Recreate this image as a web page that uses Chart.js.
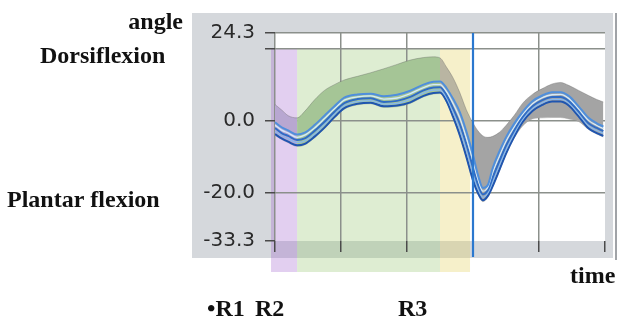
<!DOCTYPE html>
<html>
<head>
<meta charset="utf-8">
<script src="https://cdn.jsdelivr.net/npm/chart.js@4.4.1/dist/chart.umd.min.js"></script>
<style>
  html, body { margin: 0; padding: 0; background: #fff; }
  #wrap { width: 622px; height: 322px; }
</style>
</head>
<body>
<div id="wrap"><canvas id="ankleChart" width="622" height="322"></canvas></div>
<script>
// time axis, % of the gait cycle
const cycle = [0, 2, 4, 6.7, 9, 12, 15, 18, 21, 25, 29, 33, 37, 41, 45, 48, 50, 52, 54, 56, 58, 60, 61.5, 63, 64.5, 66, 68, 70, 72.5, 75, 78, 81, 84, 86.5, 89, 92, 95, 97.5, 99.5];

// normal range band (deg)
const normUpper = [4.5, 3.0, 1.4, 0.8, 2.6, 5.8, 8.4, 10.0, 11.3, 12.3, 13.3, 14.4, 15.6, 16.8, 17.5, 17.7, 17.4, 14.8, 11.8, 7.8, 3.0, -0.6, -2.8, -4.2, -4.6, -4.3, -3.2, -1.3, 1.5, 4.8, 7.3, 8.9, 10.2, 10.6, 9.8, 8.4, 7.0, 5.9, 5.2];
const normLower = [-4.0, -5.2, -6.1, -7.1, -6.7, -4.7, -2.2, 0.7, 3.2, 4.4, 4.7, 3.7, 3.9, 4.8, 6.6, 7.4, 7.5, 5.0, 0.6, -4.4, -10.4, -16.9, -20.4, -22.4, -21.2, -18.4, -14.0, -9.5, -4.8, -1.5, 0.5, 0.8, 0.9, 0.9, 0.5, -0.2, -2.4, -3.7, -4.5];

// recorded trials (deg)
const trial1 = [-0.4, -1.8, -2.7, -3.8, -3.3, -1.2, 1.4, 4.0, 6.4, 7.3, 7.5, 6.8, 7.2, 8.3, 10.0, 10.8, 10.9, 9.0, 6.0, 2.4, -3.0, -9.5, -15.0, -18.6, -17.8, -13.0, -8.5, -4.6, -0.8, 2.4, 5.4, 7.0, 7.9, 7.9, 6.9, 4.0, 0.8, -0.7, -1.6];
const trial2 = [-1.2, -2.6, -3.4, -4.6, -4.0, -2.0, 0.6, 3.3, 5.7, 6.6, 6.9, 6.0, 6.3, 7.5, 9.2, 10.0, 10.0, 8.0, 4.7, 0.8, -4.8, -11.2, -16.2, -19.5, -18.4, -14.2, -9.8, -5.7, -1.7, 1.7, 4.7, 6.4, 7.2, 7.3, 6.2, 3.3, 0.1, -1.3, -2.2];
const trial3 = [-2.0, -3.4, -4.2, -5.3, -4.9, -2.8, -0.3, 2.5, 4.9, 6.0, 6.2, 5.2, 5.5, 6.6, 8.4, 9.2, 9.3, 7.1, 3.4, -0.9, -6.5, -13.0, -17.6, -20.4, -19.2, -15.6, -11.1, -6.9, -2.6, 1.0, 4.0, 5.7, 6.6, 6.6, 5.5, 2.6, -0.7, -2.0, -2.9];
const trial4 = [-2.9, -4.1, -5.0, -6.0, -5.6, -3.7, -1.0, 1.8, 4.2, 5.3, 5.6, 4.6, 4.8, 5.9, 7.7, 8.5, 8.5, 6.3, 2.2, -2.4, -8.2, -14.8, -18.8, -21.2, -20.0, -16.8, -12.3, -8.0, -3.5, 0.3, 3.4, 5.0, 5.9, 5.9, 4.9, 1.9, -1.4, -2.7, -3.5];
const trial5 = [-3.7, -4.9, -5.8, -6.8, -6.4, -4.4, -1.9, 1.0, 3.5, 4.7, 5.0, 4.0, 4.2, 5.1, 6.9, 7.7, 7.8, 5.4, 1.0, -4.0, -10.0, -16.5, -20.0, -22.0, -20.8, -18.0, -13.6, -9.1, -4.4, -0.4, 2.7, 4.4, 5.3, 5.3, 4.2, 1.2, -2.1, -3.4, -4.2];

const yTicks = [24.3, 20, 0, -20, -33.3];
const yLabelled = [24.3, 0, -20, -33.3];

// rocker phases
const phaseNames = ['R1', 'R2', 'R3'];
const phaseStart = [-1.2, 6.7, 50];
const phaseEnd = [6.7, 50, 59.1];
const toeOff = 60;

const phaseShade = ['rgba(160,95,205,0.30)', 'rgba(145,195,105,0.30)', 'rgba(228,208,90,0.32)'];
const bandFill = ['#b8a7d1', '#a5c596', '#b9b5a2', '#a4a4a4'];
const trialColors = ['#4f8fdc', '#d3eafb', '#2f6cc6', '#86b8ee', '#1f55b0'];

const pts = arr => cycle.map((x, i) => ({ x: x, y: arr[i] }));

function bandColor(x) {
  for (let i = 0; i < phaseEnd.length; i++) {
    if (x < phaseEnd[i]) return bandFill[i];
  }
  return bandFill[3];
}

const trials = [trial1, trial2, trial3, trial4, trial5];
const datasets = trials.map((t, i) => ({
  data: pts(t),
  borderColor: trialColors[i],
  borderWidth: (i === 1 || i === 3) ? 1.3 : 2,
  pointRadius: 0,
  fill: false,
  cubicInterpolationMode: 'monotone'
}));

datasets.push({
  data: pts(normUpper),
  borderColor: 'rgba(95,95,95,0.35)',
  borderWidth: 1,
  pointRadius: 0,
  fill: '+1',
  backgroundColor: '#a4a4a4',
  cubicInterpolationMode: 'monotone',
  segment: { backgroundColor: ctx => bandColor(ctx.p0.parsed.x) }
});
datasets.push({
  data: pts(normLower),
  borderColor: 'rgba(95,95,95,0.25)',
  borderWidth: 1,
  pointRadius: 0,
  fill: false,
  cubicInterpolationMode: 'monotone'
});

const backdrop = {
  id: 'backdrop',
  beforeDraw(chart) {
    const { ctx, chartArea: a, scales: { x, y } } = chart;
    ctx.save();
    // grey panel
    ctx.fillStyle = '#d5d8dc';
    ctx.fillRect(192, 13, 421, 245);
    ctx.fillStyle = '#ffffff';
    ctx.fillRect(a.left, a.top, a.right - a.left, a.bottom - a.top);
    // rocker phase shading
    const top = y.getPixelForValue(20);
    const bottom = a.bottom + 31;
    phaseStart.forEach((s, i) => {
      const x0 = x.getPixelForValue(s);
      const x1 = x.getPixelForValue(phaseEnd[i]);
      ctx.fillStyle = phaseShade[i];
      ctx.fillRect(x0, top, x1 - x0, bottom - top);
    });
    // right edge of the panel
    ctx.strokeStyle = '#a0a3a7';
    ctx.lineWidth = 2;
    ctx.beginPath();
    ctx.moveTo(616, 13);
    ctx.lineTo(616, 260);
    ctx.stroke();
    ctx.restore();
  },
  afterDatasetsDraw(chart) {
    const { ctx, chartArea: a, scales: { x } } = chart;
    const px = x.getPixelForValue(toeOff);
    ctx.save();
    ctx.strokeStyle = '#2b78cf';
    ctx.lineWidth = 2.2;
    ctx.beginPath();
    ctx.moveTo(px, a.top);
    ctx.lineTo(px, a.bottom + 16);
    ctx.stroke();
    ctx.restore();
  },
  afterDraw(chart) {
    const { ctx } = chart;
    ctx.save();
    ctx.fillStyle = '#111';
    ctx.font = 'bold 24px "Liberation Serif"';
    ctx.textBaseline = 'alphabetic';
    ctx.textAlign = 'right';
    ctx.fillText('angle', 183, 29);
    ctx.textAlign = 'left';
    ctx.fillText('Dorsiflexion', 40, 63);
    ctx.fillText('Plantar flexion', 7, 207);
    ctx.fillText('time', 570, 283);
    ctx.fillText('\u2022' + phaseNames[0], 207, 316);
    ctx.fillText(phaseNames[1], 255, 316);
    ctx.fillText(phaseNames[2], 398, 316);
    ctx.restore();
  }
};

new Chart(document.getElementById('ankleChart'), {
  type: 'line',
  data: { datasets: datasets },
  plugins: [backdrop],
  options: {
    responsive: false,
    animation: false,
    devicePixelRatio: 1,
    layout: { padding: { top: 33, right: 17, left: 0, bottom: 0 } },
    plugins: { legend: { display: false }, tooltip: { enabled: false } },
    scales: {
      x: {
        type: 'linear',
        min: 0,
        max: 100,
        afterFit: s => { s.height = 81; },
        ticks: { stepSize: 20, callback: () => '' },
        border: { display: false },
        grid: {
          color: c => c.tick.value === 100 ? 'rgba(0,0,0,0)' : '#8b908b',
          lineWidth: 1.5,
          tickColor: '#4a4a4a',
          tickLength: 11,
          tickWidth: 1.5
        }
      },
      y: {
        type: 'linear',
        min: -33.3,
        max: 24.3,
        afterFit: s => { s.width = 275; },
        afterBuildTicks: s => { s.ticks = yTicks.map(v => ({ value: v })); },
        ticks: {
          padding: 10,
          color: '#2a2a2a',
          font: { family: 'DejaVu Sans', size: 20 },
          callback: v => yLabelled.includes(v) ? v.toFixed(1) : ''
        },
        border: { display: false },
        grid: {
          color: c => c.tick.value === -33.3 ? 'rgba(0,0,0,0)' : '#8b908b',
          lineWidth: 1.5,
          tickColor: '#4a4a4a',
          tickLength: 10,
          tickWidth: 1.5
        }
      }
    }
  }
});
</script>
</body>
</html>
